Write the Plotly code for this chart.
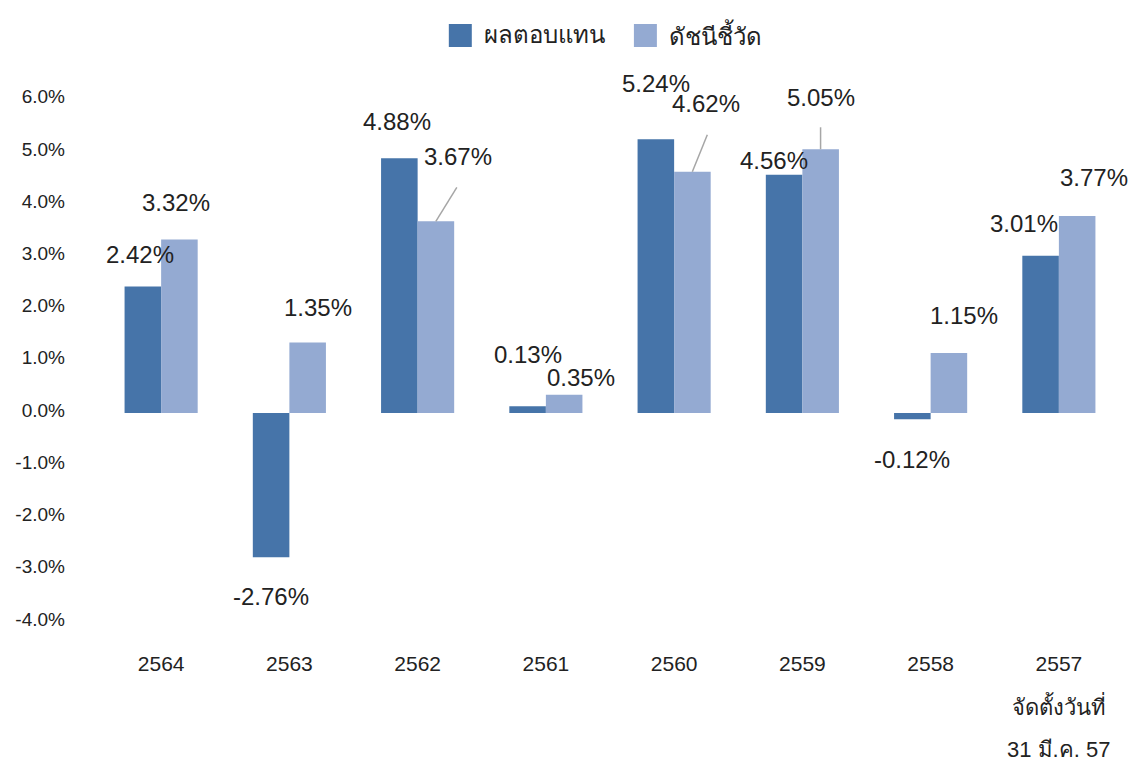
import plotly.graph_objects as go

categories = ["2564", "2563", "2562", "2561", "2560", "2559", "2558", "2557"]
returns = [2.42, -2.76, 4.88, 0.13, 5.24, 4.56, -0.12, 3.01]
benchmark = [3.32, 1.35, 3.67, 0.35, 4.62, 5.05, 1.15, 3.77]
series_names = ["ผลตอบแทน", "ดัชนีชี้วัด"]
tick_vals = [-4, -3, -2, -1, 0, 1, 2, 3, 4, 5, 6]
tick_text = [f"{v:.1f}%" for v in tick_vals]
note_lines = ["จัดตั้งวันที่", "31 มี.ค. 57"]

DARK = "#4674a9"
LIGHT = "#94aad2"
FONT = "Liberation Sans, Arial, Noto Sans, sans-serif"
TXT = "#222222"
HALF = 18.2  # half bar width in px (bar centre offset from category centre)

fig = go.Figure()
fig.add_trace(go.Bar(x=categories, y=returns, name=series_names[0], marker_color=DARK,
                     marker_line_width=0, showlegend=False))
fig.add_trace(go.Bar(x=categories, y=benchmark, name=series_names[1], marker_color=LIGHT,
                     marker_line_width=0, showlegend=False))

# label offsets (pixels): (xshift relative to bar centre, yshift relative to bar end)
ret_off = [(-3, 32), (0, -39), (-2, 37), (0, 52), (0, 56), (-10, 14), (0, -40), (-17, 32)]
ben_off = [(-3, 37), (10, 35), (22, 65), (17, 17), (14, 68), (0, 52), (15, 37), (17, 39)]
# leader line end offsets (pixels) from top of benchmark bar, None = no leader
leader = [None, None, (21, 34), None, (15, 37), (0, 22), None, None]
LBL = dict(size=24, color=TXT, family=FONT)

for i, c in enumerate(categories):
    dx, dy = ret_off[i]
    fig.add_annotation(x=i, y=returns[i], text=f"{returns[i]:.2f}%", showarrow=False,
                       xshift=-HALF + dx, yshift=dy, font=LBL)
    dx, dy = ben_off[i]
    fig.add_annotation(x=i, y=benchmark[i], text=f"{benchmark[i]:.2f}%", showarrow=False,
                       xshift=HALF + dx, yshift=dy, font=LBL)
    if leader[i] is not None:
        lx, ly = leader[i]
        fig.add_shape(type="line", xref="x", yref="y", xsizemode="pixel", ysizemode="pixel",
                      xanchor=i, yanchor=benchmark[i], x0=HALF, x1=HALF + lx, y0=0, y1=ly,
                      line=dict(color="#a6a6a6", width=1.5))

for j, line in enumerate(note_lines):
    fig.add_annotation(x=len(categories) - 1, xref="x", y=-0.1028 - j * 0.078, yref="paper",
                       text=line, showarrow=False, yanchor="middle",
                       font=dict(size=22, color=TXT, family=FONT))

# manual legend (large square swatches)
legend_items = [(series_names[0], DARK, 0.3429), (series_names[1], LIGHT, 0.5233)]
for name, col, x0 in legend_items:
    fig.add_shape(type="rect", xref="paper", yref="paper", x0=x0, x1=x0 + 0.0224,
                  y0=1.0656, y1=1.1064, fillcolor=col, line_width=0)
    fig.add_annotation(xref="paper", yref="paper", x=x0 + 0.032, y=1.0869, text=name,
                       showarrow=False, xanchor="left", yanchor="middle",
                       font=dict(size=24, color=TXT, family=FONT))

fig.update_layout(
    width=1138, height=763,
    margin=dict(l=89, r=23, t=76, b=123, autoexpand=False),
    paper_bgcolor="white", plot_bgcolor="white",
    barmode="group", bargap=0.43, bargroupgap=0,
    font=dict(family=FONT, color=TXT),
    showlegend=False,
    xaxis=dict(type="category", range=[-0.5, len(categories) - 0.5], automargin=False,
               showgrid=False, showline=False, zeroline=False, ticks="",
               tickfont=dict(size=21, color=TXT), ticklabelstandoff=1),
    yaxis=dict(range=[-4.5, 6.3], tickvals=tick_vals, ticktext=tick_text, automargin=False,
               showgrid=False, showline=False, zeroline=False, ticks="",
               tickfont=dict(size=19, color=TXT), ticklabelstandoff=31,
               ticklabelshift=-3),
)

fig.write_html("out.html")
